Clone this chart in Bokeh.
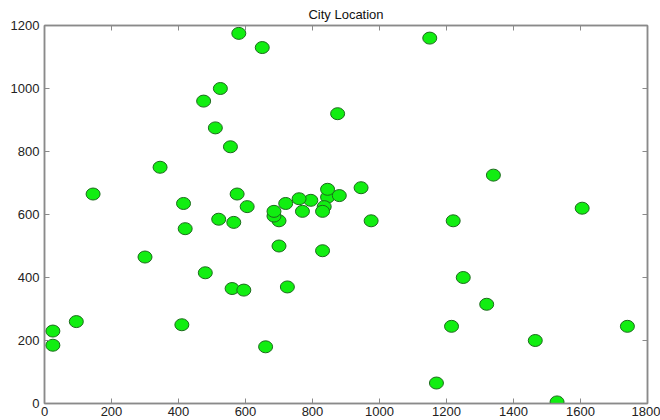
from bokeh.plotting import figure
from bokeh.models import LinearAxis, Range1d, FixedTicker, ColumnDataSource, CustomJSTickFormatter
from bokeh.embed import file_html
from bokeh.resources import INLINE

# Berlin52 city coordinates
city_x = [565, 25, 345, 945, 845, 880, 25, 525, 580, 650, 1605, 1220, 1465, 1530,
          845, 725, 145, 415, 510, 560, 300, 520, 480, 835, 975, 1215, 1320, 1250,
          660, 410, 420, 575, 1150, 700, 685, 685, 770, 795, 720, 760, 475, 95,
          875, 700, 555, 830, 1170, 830, 605, 595, 1340, 1740]
city_y = [575, 185, 750, 685, 655, 660, 230, 1000, 1175, 1130, 620, 580, 200, 5,
          680, 370, 665, 635, 875, 365, 465, 585, 415, 625, 580, 245, 315, 400,
          180, 250, 555, 665, 1160, 580, 595, 610, 610, 645, 635, 650, 960, 260,
          920, 500, 815, 485, 65, 610, 625, 360, 725, 245]
x_ticks = [0, 200, 400, 600, 800, 1000, 1200, 1400, 1600, 1800]
y_ticks = [0, 200, 400, 600, 800, 1000, 1200]

src = ColumnDataSource(dict(x=city_x, y=city_y))

axis_color = "#8a8a8a"
font = "Liberation Sans"

p = figure(width=660, height=420, output_backend="svg", toolbar_location=None,
           x_range=Range1d(0, 1800), y_range=Range1d(0, 1200),
           title="City Location",
           min_border_left=44, min_border_right=13, min_border_bottom=17, min_border_top=0)
p.title.align = "center"
p.title.text_font = font
p.title.text_font_size = "13px"
p.title.text_font_style = "normal"
p.title.text_color = "#111111"
p.title.standoff = 8
p.title.offset = 0
p.grid.visible = False
p.outline_line_color = axis_color
p.outline_line_width = 1.5
p.background_fill_color = "white"
p.border_fill_color = "white"

for ax, ticks in ((p.xaxis[0], x_ticks), (p.yaxis[0], y_ticks)):
    ax.ticker = FixedTicker(ticks=ticks)
    ax.major_tick_in = 5
    ax.major_tick_out = 0
    ax.minor_tick_line_color = None
    ax.axis_line_color = axis_color
    ax.axis_line_width = 1.5
    ax.major_tick_line_color = axis_color
    ax.major_label_text_font = font
    ax.major_label_text_font_size = "13px"
    ax.major_label_text_color = "#222222"
p.xaxis[0].major_label_standoff = 3
p.yaxis[0].major_label_standoff = 5

blank = CustomJSTickFormatter(code='return "";')
top = LinearAxis(ticker=FixedTicker(ticks=x_ticks), major_tick_in=5, major_tick_out=0,
                 minor_tick_line_color=None, axis_line_color=axis_color, axis_line_width=1.5,
                 major_tick_line_color=axis_color, formatter=blank,
                 major_label_standoff=0, major_label_text_font_size="1px")
right = LinearAxis(ticker=FixedTicker(ticks=y_ticks), major_tick_in=5, major_tick_out=0,
                   minor_tick_line_color=None, axis_line_color=axis_color, axis_line_width=1.5,
                   major_tick_line_color=axis_color, formatter=blank,
                   major_label_standoff=0, major_label_text_font_size="1px")
p.add_layout(top, "above")
p.add_layout(right, "right")

p.ellipse(x="x", y="y", width=14, height=12, width_units="screen", height_units="screen",
          source=src, fill_color="#11ee11", line_color="#1c6b1c", line_width=1)

open("out.html", "w").write(file_html(p, INLINE))
